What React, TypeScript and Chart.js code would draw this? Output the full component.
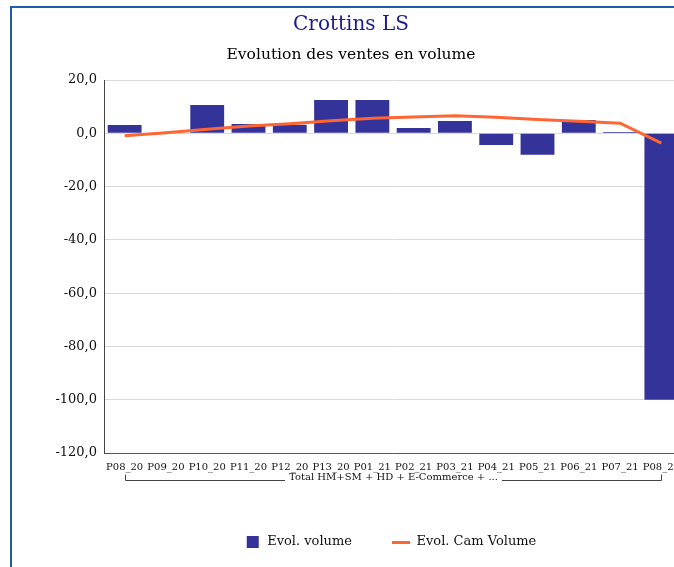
import React, { useEffect, useRef } from "react";
import { Chart, registerables } from "chart.js";

Chart.register(...registerables);

const categories = [
  "P08_20", "P09_20", "P10_20", "P11_20", "P12_20", "P13_20", "P01_21",
  "P02_21", "P03_21", "P04_21", "P05_21", "P06_21", "P07_21", "P08_21",
];
const evolVolume = [3.1, 0, 10.6, 3.5, 3.2, 12.5, 12.5, 2.0, 4.6, -4.4, -8.1, 5.0, 0.5, -100.0];
const evolCamVolume = [-0.9, 0.2, 1.5, 2.7, 3.6, 4.7, 5.6, 6.1, 6.6, 6.0, 5.2, 4.5, 3.8, -3.7];
const seriesNames = ["Evol. volume", "Evol. Cam Volume"];
const yMin = -120;
const yMax = 20;
const yStep = 20;
const titleText = "Crottins LS";
const subtitleText = "Evolution des ventes en volume";
const groupLabel = "Total HM+SM + HD + E-Commerce + ...";

const BAR_COLOR = "#333399";
const LINE_COLOR = "#ff6633";
const FONT = "'DejaVu Serif', serif";

function makeSquare(): HTMLCanvasElement {
  const c = document.createElement("canvas");
  c.width = 18;
  c.height = 12;
  const g = c.getContext("2d")!;
  g.fillStyle = BAR_COLOR;
  g.fillRect(4, 0, 12, 12);
  return c;
}
function makeLine(): HTMLCanvasElement {
  const c = document.createElement("canvas");
  c.width = 18;
  c.height = 3;
  const g = c.getContext("2d")!;
  g.fillStyle = LINE_COLOR;
  g.fillRect(0, 0, 18, 3);
  return c;
}

const groupPlugin = {
  id: "groupLabel",
  afterDraw(chart: any) {
    const { ctx, chartArea, scales } = chart;
    const xs = scales.x;
    const x0 = Math.round(xs.getPixelForValue(0)) + 0.5;
    const x1 = Math.round(xs.getPixelForValue(categories.length - 1)) + 0.5;
    const yLine = Math.round(chartArea.bottom + 27) + 0.5;
    ctx.save();
    ctx.font = `10px ${FONT}`;
    ctx.fillStyle = "#111";
    ctx.textAlign = "center";
    ctx.textBaseline = "middle";
    const cx = (x0 + x1) / 2;
    const w = ctx.measureText(groupLabel).width;
    ctx.fillText(groupLabel, cx, yLine - 3);
    ctx.strokeStyle = "#444";
    ctx.lineWidth = 1;
    ctx.beginPath();
    ctx.moveTo(x0, yLine - 6);
    ctx.lineTo(x0, yLine);
    ctx.lineTo(cx - w / 2 - 4, yLine);
    ctx.moveTo(cx + w / 2 + 4, yLine);
    ctx.lineTo(x1, yLine);
    ctx.lineTo(x1, yLine - 6);
    ctx.stroke();
    ctx.restore();
  },
};

const legendShift = {
  id: "legendShift",
  afterLayout(chart: any) {
    const lg = chart.legend;
    if (lg) {
      lg.left = chart.chartArea.left - 7;
      lg.right = chart.chartArea.right;
    }
  },
};

export default function App() {
  const ref = useRef<HTMLCanvasElement | null>(null);
  useEffect(() => {
    if (!ref.current) return;
    const square = makeSquare();
    const line = makeLine();
    const chart = new Chart(ref.current, {
      type: "bar",
      data: {
        labels: categories,
        datasets: [
          {
            type: "bar",
            label: seriesNames[0],
            data: evolVolume,
            backgroundColor: BAR_COLOR,
            borderWidth: 0,
            categoryPercentage: 1,
            barPercentage: 0.82,
            order: 1,
          },
          {
            type: "line",
            label: seriesNames[1],
            data: evolCamVolume,
            borderColor: LINE_COLOR,
            backgroundColor: LINE_COLOR,
            borderWidth: 3,
            pointRadius: 0,
            tension: 0,
            fill: false,
            order: 0,
          },
        ],
      },
      options: {
        responsive: false,
        animation: false,
        devicePixelRatio: 1,
        layout: { padding: { left: 8, right: 10, top: 0, bottom: 8.5 } },
        plugins: {
          tooltip: { enabled: false },
          title: {
            display: true,
            text: titleText,
            color: "#1a1a90",
            font: { family: FONT, size: 20, weight: "normal" },
            padding: { top: 5, bottom: 0 },
          },
          subtitle: {
            display: true,
            text: subtitleText,
            color: "#000",
            font: { family: FONT, size: 15.5, weight: "normal" },
            padding: { top: 8.7, bottom: 15.7 },
          },
          legend: {
            display: true,
            position: "bottom",
            labels: {
              usePointStyle: true,
              pointStyleWidth: 18,
              boxHeight: 12,
              padding: 40,
              color: "#111",
              font: { family: FONT, size: 13 },
              generateLabels: (c: any) => {
                const items = Chart.defaults.plugins.legend.labels.generateLabels(c);
                items.sort((a: any, b: any) => a.datasetIndex - b.datasetIndex);
                items.forEach((it: any) => {
                  it.pointStyle = it.datasetIndex === 0 ? square : line;
                });
                return items;
              },
            },
          },
        },
        scales: {
          x: {
            grid: { display: false, drawTicks: false },
            border: { display: true, color: "#555", width: 1 },
            ticks: {
              autoSkip: false,
              maxRotation: 0,
              minRotation: 0,
              padding: 8,
              color: "#111",
              font: { family: FONT, size: 10 },
            },
            afterFit: (s: any) => {
              s.height = 42.5;
            },
          },
          y: {
            min: yMin,
            max: yMax,
            grid: { color: "#d9d9d9", drawTicks: false },
            border: { display: true, color: "#444", width: 1 },
            ticks: {
              stepSize: yStep,
              padding: 7,
              color: "#111",
              font: { family: FONT, size: 13 },
              callback: (v: any) => Number(v).toFixed(1).replace(".", ","),
            },
            afterFit: (s: any) => {
              s.width = 84;
            },
          },
        },
      },
      plugins: [groupPlugin, legendShift],
    } as any);
    return () => chart.destroy();
  }, []);

  return (
    <div style={{ position: "fixed", left: 0, top: 0, width: 674, height: 567, overflow: "hidden", background: "#fff" }}>
      <div
        style={{
          position: "absolute",
          left: 10,
          top: 6,
          width: 700,
          height: 600,
          border: "2px solid #1d5eac",
          boxSizing: "border-box",
        }}
      />
      <canvas
        ref={ref}
        width={680}
        height={559}
        style={{ position: "absolute", left: 12, top: 8, width: 680, height: 559 }}
      />
    </div>
  );
}
